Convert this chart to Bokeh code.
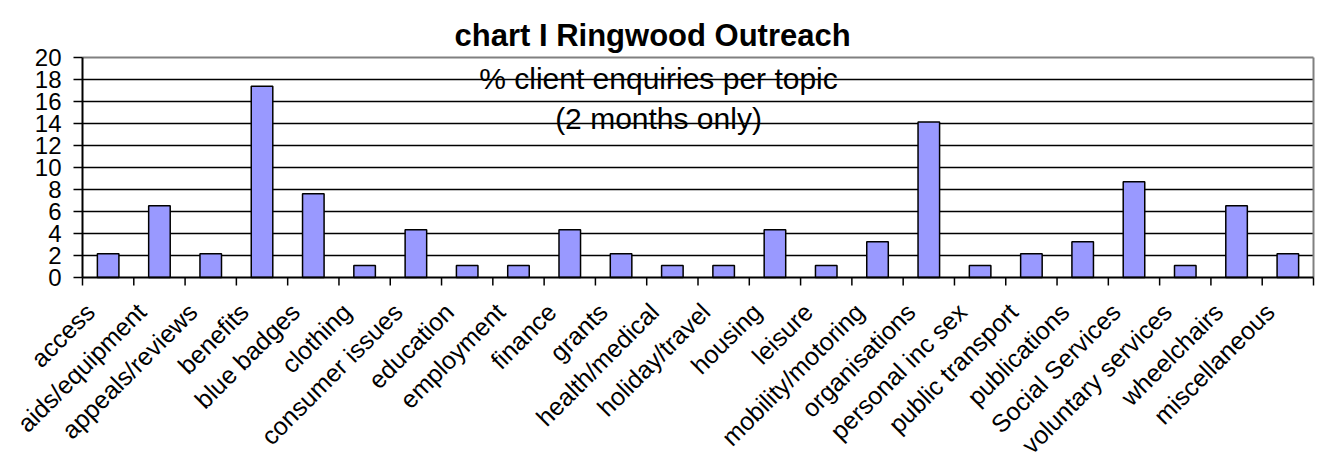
import math
from bokeh.plotting import figure
from bokeh.models import Range1d, Label, ColumnDataSource
from bokeh.core.properties import value
from bokeh.embed import file_html
from bokeh.resources import INLINE

# ---- data (percent of 92 client enquiries, 2 months) ----
topics = ["access", "aids/equipment", "appeals/reviews", "benefits", "blue badges",
          "clothing", "consumer issues", "education", "employment", "finance",
          "grants", "health/medical", "holiday/travel", "housing", "leisure",
          "mobility/motoring", "organisations", "personal inc sex", "public transport",
          "publications", "Social Services", "voluntary services", "wheelchairs",
          "miscellaneous"]
percent = [2.17, 6.52, 2.17, 17.39, 7.61, 1.09, 4.35, 1.09, 1.09, 4.35,
           2.17, 1.09, 1.09, 4.35, 1.09, 3.26, 14.13, 1.09, 2.17, 3.26,
           8.70, 1.09, 6.52, 2.17]
y_ticks = [0, 2, 4, 6, 8, 10, 12, 14, 16, 18, 20]
y_tick_labels = [str(t) for t in y_ticks]
title_text = "chart I Ringwood Outreach"
subtitle_1 = "% client enquiries per topic"
subtitle_2 = "(2 months only)"

FONT = "Liberation Sans"
n = len(topics)
slot = list(range(n))                        # category index
centers = [i + 0.5 for i in slot]            # category centres
bounds = list(range(n + 1))                  # category boundaries (tick marks)
y_max = y_ticks[-1]
inner_grid = y_ticks[1:-1]

# ---- layout constants (pixels) ----
W, H = 1325, 457
LEFT = 82                    # pixel column of the value axis
AXIS_Y = 277                 # pixel row of value 0 from the top
XPX = 1231 / n               # px per category
YPX = 11.0                   # px per value unit (220 px for 0..20)
XTICK_LEN, YTICK_LEN = 8, 9
YLABEL_GAP = 21
XLABEL_DROP, XLABEL_SHIFT = 30, -18

p = figure(width=W, height=H, output_backend="svg", toolbar_location=None,
           x_range=Range1d(-LEFT / XPX, (W - LEFT) / XPX),
           y_range=Range1d(-(H - AXIS_Y) / YPX, AXIS_Y / YPX),
           x_axis_location=None, y_axis_location=None, min_border=0)
p.background_fill_color = "white"
p.border_fill_color = "white"
p.outline_line_color = None
p.xgrid.visible = False
p.ygrid.visible = False

# horizontal grid lines
p.segment(x0=[0] * len(inner_grid), y0=inner_grid, x1=[n] * len(inner_grid),
          y1=inner_grid, line_color="black", line_width=1.5)
# plot-area border (grey) at top and right
p.segment(x0=[0, n], y0=[y_max, 0], x1=[n, n], y1=[y_max, y_max],
          line_color="#808080", line_width=2)

# bars
src = ColumnDataSource(dict(x=centers, pct=percent, topic=topics,
                            ly=[-XLABEL_DROP / YPX] * n))
p.vbar(x="x", top="pct", bottom=0, width=0.42, source=src,
       fill_color="#9999FF", line_color="black", line_width=1.5)

# value axis: line, ticks, labels
p.segment(x0=[0], y0=[0], x1=[0], y1=[y_max], line_color="black", line_width=2)
p.segment(x0=[0] * len(y_ticks), y0=y_ticks, x1=[-YTICK_LEN / XPX] * len(y_ticks),
          y1=y_ticks, line_color="black", line_width=1.5)
p.text(x=[0] * len(y_ticks), y=y_ticks, text=y_tick_labels, x_offset=-YLABEL_GAP,
       text_align="right", text_baseline="middle",
       text_font=value(FONT), text_font_size=value("24px"), text_color="black")

# category axis: line, boundary ticks, rotated labels
p.segment(x0=[0], y0=[0], x1=[n], y1=[0], line_color="black", line_width=2)
p.segment(x0=bounds, y0=[0] * len(bounds), x1=bounds,
          y1=[-XTICK_LEN / YPX] * len(bounds), line_color="black", line_width=1.5)
p.text(x="x", y="ly", text="topic", source=src, x_offset=XLABEL_SHIFT,
       angle=math.pi / 4, text_align="right", text_baseline="middle",
       text_font=value(FONT), text_font_size=value("25px"), text_color="black")

# title and subtitle (screen units measured from the frame's bottom-left)
p.add_layout(Label(x=454, y=H - 35, x_units="screen", y_units="screen",
                   text=title_text, text_align="left", text_baseline="alphabetic",
                   text_font=FONT, text_font_size="31px", text_font_style="bold",
                   text_color="black"))
for txt, base in [(subtitle_1, 78), (subtitle_2, 118)]:
    p.add_layout(Label(x=658, y=H - base, x_units="screen", y_units="screen",
                       text=txt, text_align="center", text_baseline="alphabetic",
                       text_font=FONT, text_font_size="30px", text_color="black"))

open("out.html", "w").write(file_html(p, INLINE))
